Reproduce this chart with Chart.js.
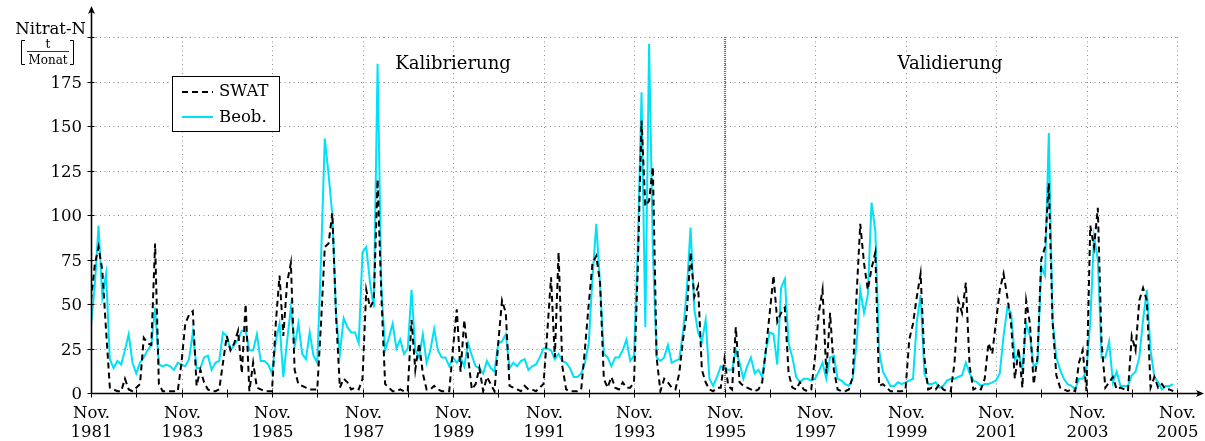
<!DOCTYPE html>
<html>
<head>
<meta charset="utf-8">
<script src="https://cdn.jsdelivr.net/npm/chart.js@4"></script>
<style>
  html, body { margin: 0; background: #fff; }
</style>
</head>
<body>
<canvas id="nitrat" width="1205" height="441"></canvas>
<script>
// monthly values, first entry = Nov 1981
const yearLabels = ['1981', '1983', '1985', '1987', '1989', '1991', '1993', '1995', '1997', '1999', '2001', '2003', '2005'];
const yTicks = [0, 25, 50, 75, 100, 125, 150, 175];
const splitMonth = 168; // Nov 1995: Kalibrierung | Validierung

const swat = [
  52, 72, 82, 69, 35, 3, 2, 1, 1, 8, 2, 1,
  3, 5, 31, 28, 27, 84, 5, 1, 1, 1, 1, 1,
  17, 39, 44, 46, 4, 13, 6, 2, 1, 1, 2, 17,
  32, 24, 28, 35, 11, 50, 1, 17, 3, 2, 1, 1,
  1, 39, 66, 32, 62, 73, 13, 5, 4, 3, 2, 2,
  2, 39, 82, 84, 101, 43, 3, 8, 6, 2, 3, 2,
  8, 58, 48, 52, 120, 55, 5, 3, 1, 1, 2, 1,
  1, 41, 13, 28, 11, 2, 2, 4, 2, 1, 1, 1,
  25, 47, 12, 41, 20, 2, 5, 14, 1, 9, 5, 1,
  28, 52, 45, 4, 3, 2, 1, 4, 2, 2, 1, 3,
  5, 34, 65, 20, 79, 15, 2, 1, 1, 1, 2, 25,
  50, 73, 77, 62, 8, 3, 9, 3, 2, 6, 3, 3,
  6, 70, 153, 105, 108, 127, 20, 1, 8, 6, 3, 2,
  11, 30, 45, 79, 54, 60, 13, 6, 2, 1, 3, 3,
  19, 4, 2, 37, 6, 4, 3, 2, 1, 2, 6, 25,
  45, 66, 40, 45, 48, 11, 3, 2, 6, 2, 1, 2,
  20, 45, 58, 11, 45, 13, 2, 1, 1, 2, 9, 54,
  95, 73, 58, 70, 79, 4, 5, 3, 1, 1, 1, 1,
  2, 30, 39, 54, 67, 20, 2, 3, 2, 5, 2, 1,
  1, 17, 52, 45, 62, 15, 2, 3, 2, 8, 28, 22,
  40, 58, 67, 54, 39, 8, 25, 3, 52, 39, 5, 20,
  75, 82, 118, 40, 10, 3, 2, 1, 2, 1, 17, 24,
  1, 94, 82, 104, 28, 3, 6, 9, 2, 3, 2, 1,
  32, 24, 52, 59, 52, 3, 9, 3, 5, 2, 2, 1
];

const beob = [
  38, 60, 94, 54, 67, 19, 14, 18, 16, 24, 33, 17,
  11, 17, 20, 24, 27, 48, 16, 15, 16, 15, 13, 17,
  16, 15, 19, 34, 14, 14, 20, 21, 13, 17, 18, 34,
  32, 24, 27, 30, 35, 35, 24, 24, 33, 18, 18, 16,
  11, 29, 39, 9, 29, 48, 26, 39, 22, 19, 34, 21,
  17, 75, 143, 123, 100, 43, 22, 42, 37, 34, 34, 28,
  79, 82, 62, 48, 185, 60, 24, 31, 39, 25, 30, 22,
  25, 58, 24, 20, 33, 17, 24, 36, 24, 20, 20, 15,
  20, 17, 20, 15, 28, 21, 15, 14, 11, 18, 14, 12,
  28, 29, 33, 14, 17, 15, 18, 19, 13, 15, 16, 20,
  25, 25, 24, 19, 22, 18, 17, 14, 9, 9, 11, 17,
  28, 65, 95, 61, 22, 20, 15, 20, 20, 24, 30, 18,
  21, 80, 169, 37, 196, 80, 20, 18, 20, 27, 17, 18,
  19, 34, 58, 93, 47, 34, 29, 41, 8, 4, 9, 15,
  14, 13, 13, 24, 17, 8, 15, 20, 11, 13, 9, 24,
  34, 33, 16, 59, 64, 28, 20, 9, 6, 8, 8, 7,
  8, 12, 17, 8, 20, 21, 8, 7, 5, 4, 8, 27,
  58, 45, 55, 107, 91, 24, 12, 8, 4, 4, 6, 5,
  6, 7, 8, 40, 55, 11, 5, 5, 6, 3, 4, 7,
  8, 8, 9, 10, 17, 11, 7, 6, 4, 5, 5, 6,
  7, 11, 32, 48, 45, 19, 22, 13, 39, 32, 15, 17,
  71, 66, 146, 41, 20, 13, 8, 5, 4, 2, 8, 8,
  13, 40, 88, 75, 20, 20, 29, 6, 12, 4, 4, 4,
  10, 12, 20, 41, 58, 24, 9, 6, 2, 4, 4, 5
];

const serif = '"DejaVu Serif", serif';
const cyan = '#00e1f7';

function seg(ctx, x1, y1, x2, y2) {
  ctx.beginPath();
  ctx.moveTo(x1, y1);
  ctx.lineTo(x2, y2);
  ctx.stroke();
}

function arrowHead(ctx, x, y, dir) {
  // dir: 'up' or 'right'
  ctx.beginPath();
  if (dir === 'up') {
    ctx.moveTo(x, y);
    ctx.lineTo(x - 3.5, y + 8);
    ctx.lineTo(x, y + 6);
    ctx.lineTo(x + 3.5, y + 8);
  } else {
    ctx.moveTo(x, y);
    ctx.lineTo(x - 8, y - 3.5);
    ctx.lineTo(x - 6, y);
    ctx.lineTo(x - 8, y + 3.5);
  }
  ctx.closePath();
  ctx.fill();
}

const framePlugin = {
  id: 'frame',
  beforeDatasetsDraw(chart) {
    const { ctx, chartArea: a, scales: { x, y } } = chart;
    ctx.save();
    // dotted grid
    ctx.strokeStyle = '#8c8c8c';
    ctx.lineWidth = 1;
    ctx.setLineDash([1, 3.5]);
    yTicks.concat([200]).forEach(v => {
      if (v === 0) return;
      const py = Math.round(y.getPixelForValue(v)) + 0.5;
      seg(ctx, a.left, py, a.right, py);
    });
    for (let m = 24; m <= 288; m += 24) {
      const px = Math.round(x.getPixelForValue(m)) + 0.5;
      seg(ctx, px, a.top, px, a.bottom);
    }
    // split line
    ctx.strokeStyle = '#6e6e6e';
    ctx.lineWidth = 2.2;
    ctx.setLineDash([1, 1]);
    const sx = Math.round(x.getPixelForValue(splitMonth));
    seg(ctx, sx, a.top, sx, a.bottom);
    ctx.restore();
  },
  afterDraw(chart) {
    const { ctx, chartArea: a, scales: { x, y } } = chart;
    const x0 = Math.round(a.left) + 0.5;
    const y0 = Math.round(a.bottom) + 0.5;
    ctx.save();
    ctx.strokeStyle = '#000';
    ctx.fillStyle = '#000';
    ctx.lineWidth = 1.6;
    // axes with arrows
    seg(ctx, x0, y0, x0, 10);
    arrowHead(ctx, x0, 6, 'up');
    seg(ctx, x0, y0, 1200, y0);
    arrowHead(ctx, 1204, y0, 'right');

    // y ticks + labels
    ctx.lineWidth = 1;
    ctx.font = '16.5px ' + serif;
    ctx.textAlign = 'right';
    ctx.textBaseline = 'middle';
    yTicks.concat([200]).forEach(v => {
      const py = Math.round(y.getPixelForValue(v)) + 0.5;
      seg(ctx, x0 - 4, py, x0 + 3, py);
      if (v !== 200) ctx.fillText(String(v), 82, py + 1);
    });

    // x ticks (yearly) + labels (every 2 years)
    ctx.textAlign = 'center';
    ctx.textBaseline = 'alphabetic';
    for (let m = 0; m <= 288; m += 12) {
      const px = Math.round(x.getPixelForValue(m)) + 0.5;
      seg(ctx, px, y0 - 4, px, y0 + 4);
      if (m % 24 === 0) {
        ctx.fillText('Nov.', px, 418);
        ctx.fillText(yearLabels[m / 24], px, 437);
      }
    }

    // y title with unit t/Monat in brackets
    ctx.textAlign = 'right';
    ctx.fillText('Nitrat-N', 86, 34);
    ctx.lineWidth = 1;
    ctx.beginPath();
    ctx.moveTo(25, 40.5); ctx.lineTo(21.5, 40.5); ctx.lineTo(21.5, 64.5); ctx.lineTo(25, 64.5);
    ctx.moveTo(70, 40.5); ctx.lineTo(73.5, 40.5); ctx.lineTo(73.5, 64.5); ctx.lineTo(70, 64.5);
    ctx.stroke();
    ctx.font = '12px ' + serif;
    ctx.textAlign = 'center';
    ctx.fillText('t', 48, 48);
    ctx.fillText('Monat', 48, 64);
    ctx.lineWidth = 0.8;
    seg(ctx, 27, 51.5, 69, 51.5);

    // phase labels
    ctx.font = '18px ' + serif;
    ctx.fillText('Kalibrierung', 453, 69);
    ctx.fillText('Validierung', 950, 69);

    // legend
    ctx.fillStyle = '#fff';
    ctx.fillRect(172, 76, 108, 56);
    ctx.lineWidth = 1;
    ctx.strokeStyle = '#000';
    ctx.strokeRect(172.5, 76.5, 107, 55);
    ctx.lineWidth = 2;
    ctx.setLineDash([6, 4]);
    seg(ctx, 182, 92, 213, 92);
    ctx.setLineDash([]);
    ctx.strokeStyle = cyan;
    seg(ctx, 182, 117, 213, 117);
    ctx.fillStyle = '#000';
    ctx.font = '16.5px ' + serif;
    ctx.textAlign = 'left';
    ctx.textBaseline = 'middle';
    ctx.fillText('SWAT', 219, 92);
    ctx.fillText('Beob.', 219, 118);
    ctx.restore();
  }
};

new Chart(document.getElementById('nitrat'), {
  type: 'line',
  data: {
    datasets: [{
      label: 'SWAT',
      data: swat.map((v, i) => ({ x: i, y: v })),
      borderColor: '#000',
      borderWidth: 2,
      borderDash: [6, 4],
      pointRadius: 0,
      tension: 0
    }, {
      label: 'Beob.',
      data: beob.map((v, i) => ({ x: i, y: v })),
      borderColor: cyan,
      borderWidth: 2,
      pointRadius: 0,
      tension: 0
    }]
  },
  options: {
    responsive: false,
    animation: false,
    devicePixelRatio: 1,
    layout: { padding: { left: 91, right: 28, top: 37, bottom: 48 } },
    scales: {
      x: { type: 'linear', min: 0, max: 288, display: false },
      y: { min: 0, max: 200, display: false }
    },
    plugins: {
      legend: { display: false },
      tooltip: { enabled: false }
    }
  },
  plugins: [framePlugin]
});
</script>
</body>
</html>
